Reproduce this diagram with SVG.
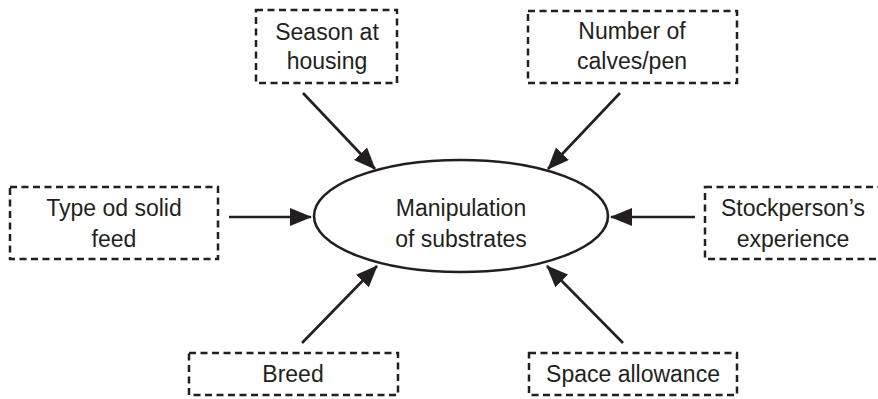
<svg xmlns="http://www.w3.org/2000/svg" width="878" height="399" viewBox="0 0 878 399">
<style>
.box{fill:#fff;stroke:#231f20;stroke-width:2.5;stroke-dasharray:7 4.5}
.t{font-family:"Liberation Sans",Arial,sans-serif;font-size:23px;fill:#231f20;text-anchor:middle}
.c{stroke:#231f20;stroke-width:2.6;fill:none;marker-end:url(#ah)}
</style>
<defs>
<marker id="ah" markerUnits="userSpaceOnUse" markerWidth="22" markerHeight="18" viewBox="0 0 22 18" refX="21" refY="9" orient="auto">
<path d="M0,0 L22,9 L0,18 Z" fill="#231f20"/>
</marker>
</defs>
<rect width="878" height="399" fill="#fff"/>
<g id="connectors">
<line class="c" x1="303" y1="93" x2="375" y2="169"/>
<line class="c" x1="620" y1="93" x2="548" y2="169"/>
<line class="c" x1="229" y1="217" x2="311" y2="217"/>
<line class="c" x1="695" y1="217" x2="611" y2="217"/>
<line class="c" x1="302" y1="343" x2="377" y2="266"/>
<line class="c" x1="623" y1="343" x2="547" y2="266"/>
</g>
<g id="center">
<ellipse cx="461" cy="216" rx="147" ry="56" fill="#fff" stroke="#231f20" stroke-width="2.6"/>
<text class="t" x="461" y="216">Manipulation</text>
<text class="t" x="461" y="247">of substrates</text>
</g>
<g id="season">
<rect class="box" x="256" y="10" width="141" height="73"/>
<text class="t" x="327" y="40">Season at</text>
<text class="t" x="327" y="69">housing</text>
</g>
<g id="calves">
<rect class="box" x="528" y="11" width="209" height="72"/>
<text class="t" x="632" y="39">Number of</text>
<text class="t" x="632" y="69">calves/pen</text>
</g>
<g id="feed">
<rect class="box" x="10" y="187" width="208" height="72"/>
<text class="t" x="114" y="216">Type od solid</text>
<text class="t" x="114" y="247">feed</text>
</g>
<g id="stockperson">
<rect class="box" x="705" y="187" width="176" height="72"/>
<text class="t" x="793" y="216">Stockperson’s</text>
<text class="t" x="793" y="247">experience</text>
</g>
<g id="breed">
<rect class="box" x="189" y="353" width="209" height="42"/>
<text class="t" x="293" y="382">Breed</text>
</g>
<g id="space">
<rect class="box" x="529" y="353" width="208" height="42"/>
<text class="t" x="633" y="382">Space allowance</text>
</g>
</svg>
